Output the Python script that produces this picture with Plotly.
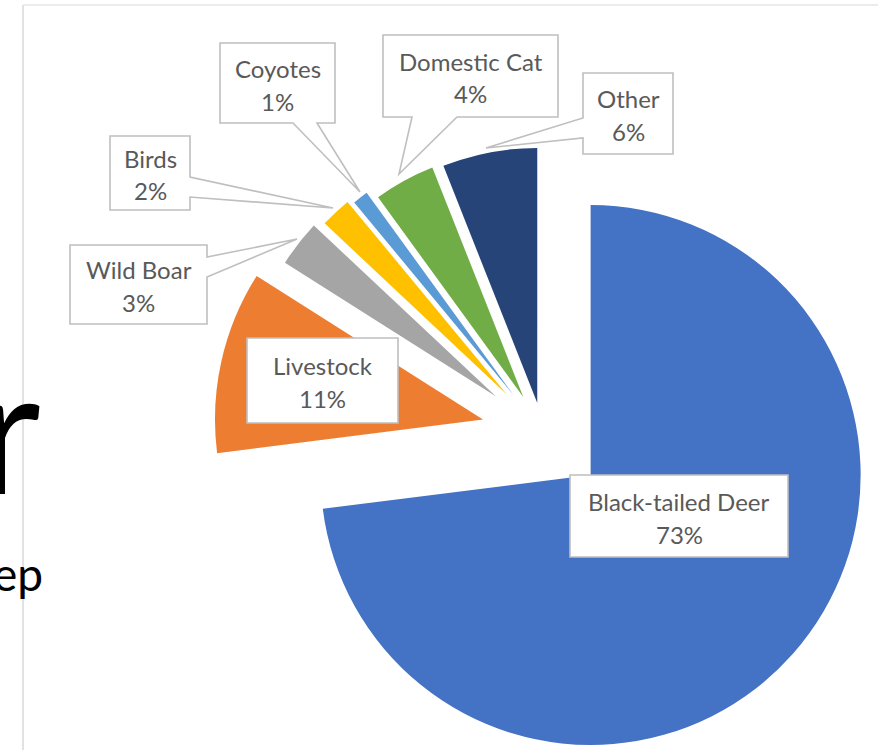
import math
import plotly.graph_objects as go

# ---------------- data ----------------
labels = ["Black-tailed Deer", "Livestock", "Wild Boar", "Birds", "Coyotes", "Domestic Cat", "Other"]
values = [73, 11, 3, 2, 1, 4, 6]
colors = ["#4472C4", "#ED7D31", "#A5A5A5", "#FFC000", "#5B9BD5", "#70AD47", "#264478"]

# ---------------- layout (pixels) ----------------
W, H = 878, 750
CENTER = (543, 433)
pull_px = [63.5, 61.5, 59.4, 52.8, 48, 41, 30.6]
radius_px = [270, 268, 250, 250, 250, 247, 255]

# label callout boxes: (x0, y0, x1, y1) and optional wedge
boxes = [
    (570, 475, 788, 557, None),
    (247, 338, 398, 423, None),
    (70, 245, 207, 324, ("right", 257, 277, (297, 239))),
    (110, 136, 190, 210, ("right", 177, 197, (333, 208))),
    (220, 43, 335, 123, ("bottom", 293, 317, (360, 192))),
    (383, 35, 558, 117, ("bottom", 412, 457, (399, 174))),
    (583, 73, 673, 154, ("left", 118, 138, (486, 148))),
]

TEXT_COLOR = "#595959"
BOX_LINE = "#BFBFBF"
FONT = "Lato"
LABEL_SIZE = 24


def px(x):
    return x / W


def py(y):
    return 1 - y / H


fig = go.Figure()

total = sum(values)
cum = 0
for i, v in enumerate(values):
    mid = (cum + v / 2) / total
    cum += v
    th = 2 * math.pi * mid
    dx, dy = math.sin(th), -math.cos(th)
    vx = CENTER[0] + pull_px[i] * dx
    vy = CENTER[1] + pull_px[i] * dy
    r = radius_px[i]
    dom_x = [max(0, (vx - r) / W), min(1, (vx + r) / W)]
    dom_y = [max(0, (H - vy - r) / H), min(1, (H - vy + r) / H)]
    cols = [c if j == i else "rgba(0,0,0,0)" for j, c in enumerate(colors)]
    fig.add_trace(go.Pie(
        values=values, labels=labels, sort=False, direction="clockwise", rotation=0,
        marker=dict(colors=cols, line=dict(width=0)),
        textinfo="none", hoverinfo="skip", showlegend=False,
        domain=dict(x=dom_x, y=dom_y),
    ))

shapes = []
annotations = []
for i, (x0, y0, x1, y1, wedge) in enumerate(boxes):
    if wedge is None:
        pts = [(x0, y0), (x1, y0), (x1, y1), (x0, y1)]
    else:
        side, a, b, tip = wedge
        if side == "bottom":
            pts = [(x0, y0), (x1, y0), (x1, y1), (b, y1), tip, (a, y1), (x0, y1)]
        elif side == "right":
            pts = [(x0, y0), (x1, y0), (x1, a), tip, (x1, b), (x1, y1), (x0, y1)]
        else:
            pts = [(x0, y0), (x1, y0), (x1, y1), (x0, y1), (x0, b), tip, (x0, a)]
    path = "M " + " L ".join(f"{px(x):.5f},{py(y):.5f}" for x, y in pts) + " Z"
    shapes.append(dict(type="path", path=path, xref="paper", yref="paper",
                       fillcolor="white", line=dict(color=BOX_LINE, width=1.6), layer="above"))
    cx = (x0 + x1) / 2
    cy = (y0 + y1) / 2
    annotations.append(dict(x=px(cx), y=py(cy - 15), xref="paper", yref="paper",
                            text=labels[i], showarrow=False, xanchor="center", yanchor="middle",
                            font=dict(family=FONT, size=LABEL_SIZE, color=TEXT_COLOR)))
    annotations.append(dict(x=px(cx), y=py(cy + 18), xref="paper", yref="paper",
                            text=f"{values[i]}%", showarrow=False, xanchor="center", yanchor="middle",
                            font=dict(family=FONT, size=LABEL_SIZE, color=TEXT_COLOR)))

# slide fragments on the left
shapes.append(dict(type="line", xref="paper", yref="paper", x0=px(23), x1=px(23), y0=py(5), y1=0,
                   line=dict(color="#D9D9D9", width=1.5)))
shapes.append(dict(type="line", xref="paper", yref="paper", x0=px(23), x1=1, y0=py(5), y1=py(5),
                   line=dict(color="#E6E6E6", width=1.5)))
annotations.append(dict(x=px(43), y=py(426), xref="paper", yref="paper", text="r", showarrow=False,
                        xanchor="right", yanchor="middle",
                        font=dict(family=FONT, size=175, color="black")))
annotations.append(dict(x=px(45), y=py(573), xref="paper", yref="paper", text="ep", showarrow=False,
                        xanchor="right", yanchor="middle",
                        font=dict(family=FONT, size=46, color="black")))

fig.update_layout(
    width=W, height=H, margin=dict(l=0, r=0, t=0, b=0),
    paper_bgcolor="white", plot_bgcolor="white",
    shapes=shapes, annotations=annotations,
)

fig.write_html("out.html")
